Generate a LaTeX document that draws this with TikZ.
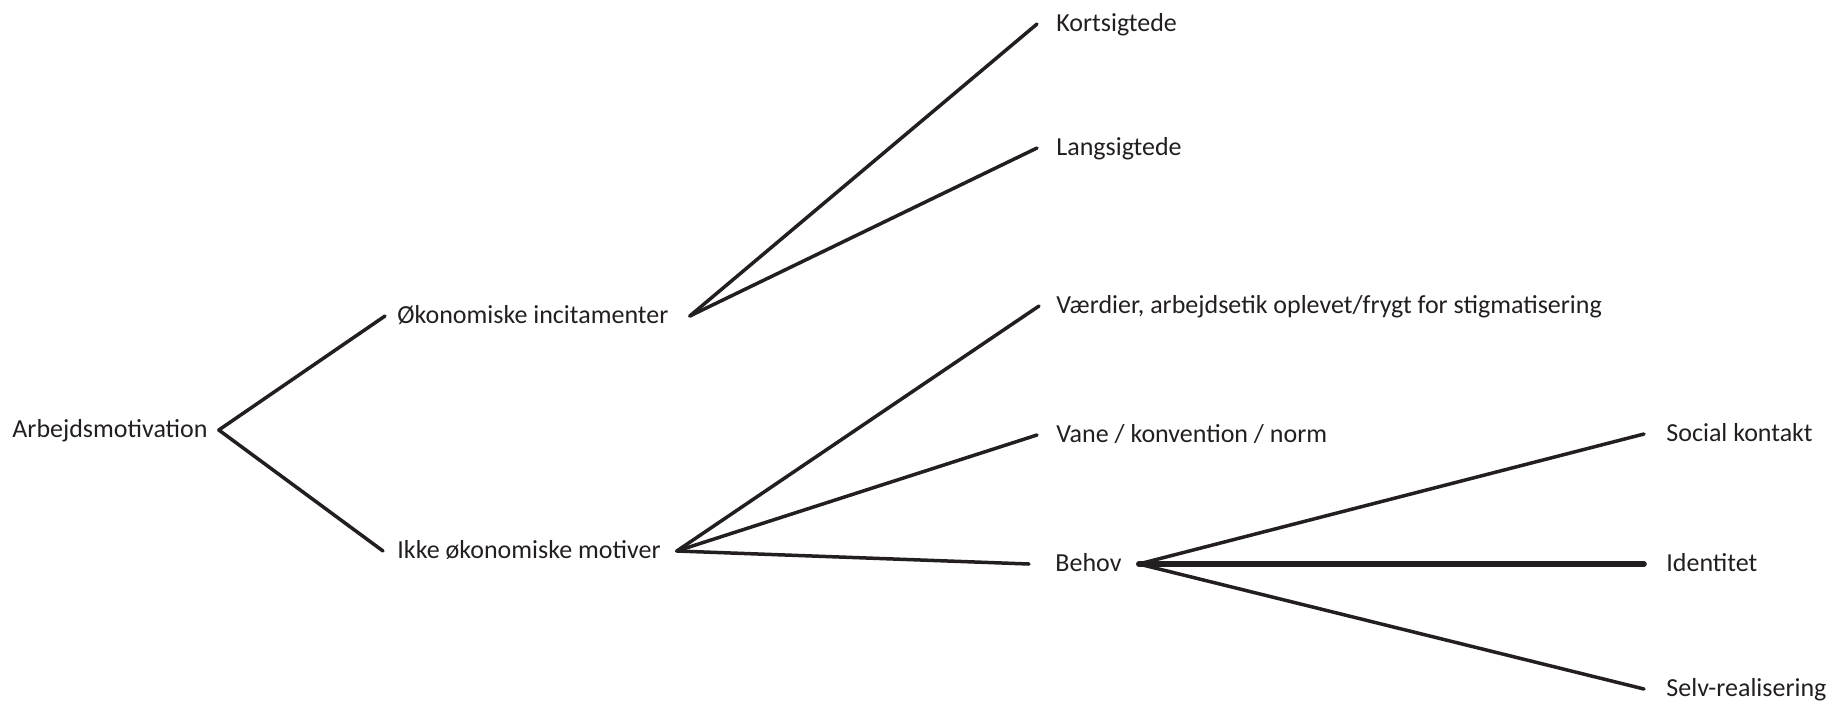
\documentclass[tikz,border=0pt]{standalone}
\usepackage{fontspec}
\setmainfont{Carlito}
\definecolor{ink}{HTML}{231F20}
\begin{document}
\begin{tikzpicture}[x=0.5pt,y=-0.5pt,
  lbl/.style={anchor=west, inner ysep=0pt, text height=9pt, text depth=2pt,
    text=ink, font=\fontsize{13}{15}\selectfont},
  conn/.style={draw=ink, line width=1.75pt, line cap=round},
  boldconn/.style={draw=ink, line width=2.8pt, line cap=round}]
\useasboundingbox (0,0) rectangle (1840,707);
\node[lbl, inner xsep=5.5pt] (arb) at (1,430) {\makebox[97.5pt][l]{Arbejdsmotivation}};
\node[lbl, inner xsep=6pt] (oko) at (385,316) {\makebox[140pt][l]{Økonomiske incitamenter}};
\node[lbl, inner xsep=7pt] (ikke) at (383,551) {\makebox[132.5pt][l]{Ikke økonomiske motiver}};
\node[lbl, inner xsep=9.5pt] (kort) at (1037,24) {Kortsigtede};
\node[lbl, inner xsep=9.5pt] (lang) at (1037,148) {Langsigtede};
\node[lbl, inner xsep=8.5pt] (vaer) at (1039,306) {Værdier, arbejdsetik oplevet/frygt for stigmatisering};
\node[lbl, inner xsep=9.5pt] (vane) at (1037,435) {Vane / konvention / norm};
\node[lbl, inner xsep=13pt] (behov) at (1029,564) {\makebox[28.5pt][l]{Behov}};
\node[lbl, inner xsep=11pt] (social) at (1644,434) {Social kontakt};
\node[lbl, inner xsep=11pt] (ident) at (1644,564) {Identitet};
\node[lbl, inner xsep=11pt] (selv) at (1644,689) {Selv-realisering};
\draw[conn] (arb.east) -- (oko.west);
\draw[conn] (arb.east) -- (ikke.west);
\draw[conn] (oko.east) -- (kort.west);
\draw[conn] (oko.east) -- (lang.west);
\draw[conn] (ikke.east) -- (vaer.west);
\draw[conn] (ikke.east) -- (vane.west);
\draw[conn] (ikke.east) -- (behov.west);
\draw[conn] (behov.east) -- (social.west);
\draw[boldconn] (behov.east) -- (ident.west);
\draw[conn] (behov.east) -- (selv.west);
\end{tikzpicture}
\end{document}
